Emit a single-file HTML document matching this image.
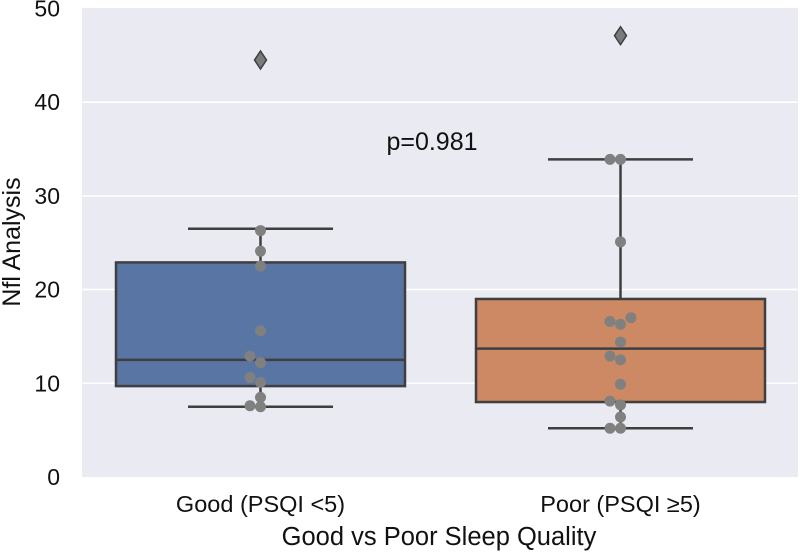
<!DOCTYPE html>
<html><head><meta charset="utf-8"><style>
body{margin:0;background:#fff}
svg{display:block;font-family:"Liberation Sans",sans-serif}
</style></head><body>
<svg id="chart" width="800" height="552">
<rect x="82" y="8" width="716" height="469" fill="#eaeaf2"/>
<g id="grid"></g><g id="marks"></g><g id="axes"></g>
<text x="432" y="150" font-size="25" text-anchor="middle" fill="#111">p=0.981</text>
<text x="439" y="545" font-size="25.5" text-anchor="middle" fill="#111">Good vs Poor Sleep Quality</text>
<text transform="translate(20,242) rotate(-90)" font-size="25" text-anchor="middle" fill="#111">Nfl Analysis</text>
</svg>
<script>
const categories = ["Good (PSQI <5)", "Poor (PSQI ≥5)"];
const q1 = [9.7, 8.0];
const medians = [12.5, 13.7];
const q3 = [22.9, 19.0];
const whiskerLow = [7.5, 5.2];
const whiskerHigh = [26.5, 33.9];
const outliers = [[44.5], [47.1]];
const goodPoints = [26.3, 24.1, 22.5, 15.6, 12.9, 12.2, 10.6, 10.1, 8.5, 7.6, 7.5];
const poorPoints = [33.9, 33.9, 25.1, 17.0, 16.6, 16.3, 14.4, 12.9, 12.5, 9.9, 8.1, 7.7, 6.4, 5.2, 5.2];
const yTicks = [0, 10, 20, 30, 40, 50];
const fills = ["#5875a4", "#cc8963"];

const NS = "http://www.w3.org/2000/svg";
const y = v => 477 - v * 9.37;
const xc = i => 260.5 + i * 360;
function mk(tag, attrs, parent) {
  const e = document.createElementNS(NS, tag);
  for (const k in attrs) e.setAttribute(k, attrs[k]);
  parent.appendChild(e); return e;
}
const grid = document.getElementById('grid'), marks = document.getElementById('marks'), axes = document.getElementById('axes');
yTicks.forEach(t => {
  if (t > 0 && t < 50) {
    const l = mk('line', {x1: 82, x2: 798, y1: y(t), y2: y(t), stroke: '#fff', 'stroke-width': 1.6}, grid);
    
    
  }
  const tx = mk('text', {x: 60, y: y(t) + 8, 'font-size': 23, 'text-anchor': 'end', fill: '#111'}, axes);
  tx.textContent = t;
  
  
});
const data = [goodPoints, poorPoints];
categories.forEach((c, i) => {
  const cx = xc(i), hw = 144.5, cw = 72.5, col = '#3f3f3f';
  const g = mk('g', {}, marks);
  
  
  mk('line', {x1: cx, x2: cx, y1: y(q3[i]), y2: y(whiskerHigh[i]), stroke: col, 'stroke-width': 2.5}, g);
  mk('line', {x1: cx, x2: cx, y1: y(q1[i]), y2: y(whiskerLow[i]), stroke: col, 'stroke-width': 2.5}, g);
  const cap1 = mk('line', {x1: cx - cw, x2: cx + cw, y1: y(whiskerHigh[i]), y2: y(whiskerHigh[i]), stroke: col, 'stroke-width': 2.5}, g);
  
  
  const cap2 = mk('line', {x1: cx - cw, x2: cx + cw, y1: y(whiskerLow[i]), y2: y(whiskerLow[i]), stroke: col, 'stroke-width': 2.5}, g);
  
  
  const b = mk('rect', {x: cx - hw, y: y(q3[i]), width: 2 * hw, height: y(q1[i]) - y(q3[i]), fill: fills[i], stroke: col, 'stroke-width': 2.5}, g);
  
  
  const m = mk('line', {x1: cx - hw, x2: cx + hw, y1: y(medians[i]), y2: y(medians[i]), stroke: col, 'stroke-width': 2.5}, g);
  
  
  outliers[i].forEach(o => {
    const d = mk('path', {d: `M${cx} ${y(o)-9}L${cx+6} ${y(o)}L${cx} ${y(o)+9}L${cx-6} ${y(o)}Z`, fill: '#7a7a7a', stroke: '#3f3f3f', 'stroke-width': 1.5}, g);
    
    
  });
  const sorted = data[i].slice().sort((a, b) => a - b), placed = [];
  sorted.forEach(v => {
    const py = y(v);
    for (const off of [0, -10.5, 10.5, -21, 21]) {
      if (placed.every(p => Math.hypot(p[0] - off, p[1] - py) >= 9)) { placed.push([off, py]); break; }
    }
  });
  placed.forEach(p => {
    const c = mk('circle', {cx: cx + p[0], cy: p[1], r: 5.5, fill: '#808080'}, g);
    
    
  });
  const lab = mk('text', {x: cx, y: 512, 'font-size': 23.5, 'text-anchor': 'middle', fill: '#111'}, axes);
  lab.textContent = c;
  
  
});
</script>
</body></html>
